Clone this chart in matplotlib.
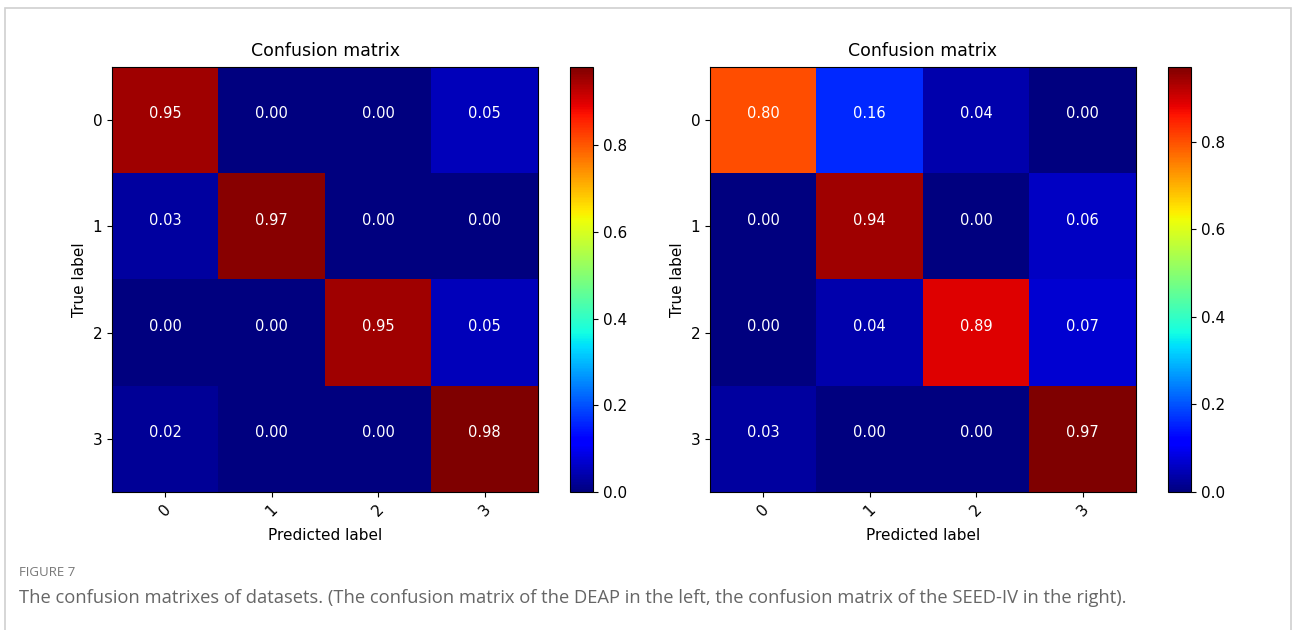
import matplotlib.pyplot as plt
import numpy as np
from matplotlib.patches import Rectangle

# confusion matrices (rows = true label, cols = predicted label)
labels = ['0', '1', '2', '3']
deap_cm = np.array([[0.95, 0.00, 0.00, 0.05],
                    [0.03, 0.97, 0.00, 0.00],
                    [0.00, 0.00, 0.95, 0.05],
                    [0.02, 0.00, 0.00, 0.98]])
seed_cm = np.array([[0.80, 0.16, 0.04, 0.00],
                    [0.00, 0.94, 0.00, 0.06],
                    [0.00, 0.04, 0.89, 0.07],
                    [0.03, 0.00, 0.00, 0.97]])
fig_label = 'FIGURE 7'
caption = ('The confusion matrixes of datasets. (The confusion matrix of the DEAP in the left, '
           'the confusion matrix of the SEED-IV in the right).')

fig = plt.figure(figsize=(12.92, 6.30), dpi=100)

# frame around the whole figure
fig.patches.append(Rectangle((5 / 1292, -0.1), 1286 / 1292, 1.1 - 8 / 630,
                             transform=fig.transFigure, fill=False,
                             edgecolor='#d0d0d0', linewidth=1.2))

ax_pos = [(0.0867, 0.219, 0.3297, 0.6746), (0.5495, 0.219, 0.3297, 0.6746)]
cb_pos = [(0.4412, 0.219, 0.0178, 0.6746), (0.904, 0.219, 0.0178, 0.6746)]

for cm, apos, cpos in zip([deap_cm, seed_cm], ax_pos, cb_pos):
    ax = fig.add_axes(apos)
    im = ax.imshow(cm, cmap='jet', interpolation='nearest', aspect='auto')
    ax.set_title('Confusion matrix', fontsize=12.5, pad=8)
    ticks = np.arange(len(labels))
    ax.set_xticks(ticks)
    ax.set_xticklabels(labels, rotation=45, fontsize=11)
    ax.set_yticks(ticks)
    ax.set_yticklabels(labels, fontsize=11)
    for i in range(cm.shape[0]):
        for j in range(cm.shape[1]):
            ax.text(j, i - 0.06, format(cm[i, j], '.2f'), ha='center', va='center',
                    color='white', fontsize=10.5)
    ax.set_ylabel('True label', fontsize=11)
    ax.set_xlabel('Predicted label', fontsize=11, labelpad=6)
    cax = fig.add_axes(cpos)
    cb = fig.colorbar(im, cax=cax)
    cb.set_ticks([0.0, 0.2, 0.4, 0.6, 0.8])
    cb.ax.tick_params(labelsize=11)

fig.text(19 / 1292, 1 - 572 / 630, fig_label, fontsize=9.5, color='#777777',
         family='Open Sans', va='center')
fig.text(19 / 1292, 1 - 598 / 630, caption, fontsize=13.2, color='#666666',
         family='Open Sans', va='center')

fig.savefig('out.png', dpi=100)
